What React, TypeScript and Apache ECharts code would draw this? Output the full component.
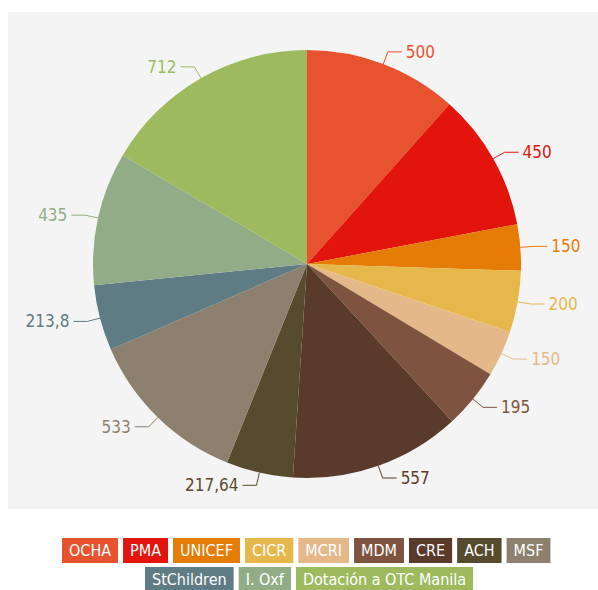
import React, { useEffect, useRef } from "react";
import * as echarts from "echarts";

const categories = [
  "OCHA", "PMA", "UNICEF", "CICR", "MCRI", "MDM", "CRE", "ACH", "MSF",
  "StChildren", "I. Oxf", "Dotación a OTC Manila",
];
const values = [500, 450, 150, 200, 150, 195, 557, 217.64, 533, 213.8, 435, 712];
const valueLabels = ["500", "450", "150", "200", "150", "195", "557", "217,64", "533", "213,8", "435", "712"];
const colors = [
  "#E8532F", "#E2140C", "#E57C05", "#E6B84C", "#E5B88A", "#7E5441",
  "#5A3A2A", "#574B2F", "#8D806E", "#5F7B83", "#91AC86", "#9DBB5E",
];
const legendRow1 = categories.slice(0, 9);
const legendRow2 = categories.slice(9);

const FONT = "'DejaVu Sans Condensed', 'Liberation Sans Narrow', 'Open Sans', sans-serif";

function legendData(names: string[]) {
  return names.map((n) => {
    const i = categories.indexOf(n);
    return {
      name: n,
      icon: "rect",
      textStyle: {
        color: "#ffffff",
        backgroundColor: colors[i],
        padding: [4, 7, 4, 7],
        fontSize: 16,
        lineHeight: 17,
        fontFamily: FONT,
      },
    };
  });
}

export default function App() {
  const ref = useRef<HTMLDivElement>(null);
  useEffect(() => {
    document.body.style.margin = "0";
    const chart = echarts.init(ref.current!, null, { renderer: "svg" });
    chart.setOption({
      animation: false,
      backgroundColor: "#ffffff",
      graphic: [
        {
          type: "rect",
          z: -10,
          silent: true,
          shape: { x: 8, y: 12, width: 590, height: 497 },
          style: { fill: "#f4f4f4" },
        },
      ],
      legend: [
        {
          data: legendData(legendRow1),
          left: 57,
          top: 538,
          itemGap: 0,
          itemWidth: 0,
          itemHeight: 0,
          selectedMode: false,
          padding: 0,
        },
        {
          data: legendData(legendRow2),
          left: 140,
          top: 567,
          itemGap: 0,
          itemWidth: 0,
          itemHeight: 0,
          selectedMode: false,
          padding: 0,
        },
      ],
      series: [
        {
          type: "pie",
          center: [307, 264],
          radius: [0, 214],
          startAngle: 90,
          clockwise: true,
          avoidLabelOverlap: true,
          label: {
            show: true,
            position: "outside",
            fontFamily: FONT,
            fontSize: 17,
            distanceToLabelLine: 4,
            formatter: (p: any) => valueLabels[p.dataIndex],
          },
          labelLine: {
            show: true,
            length: 13,
            length2: 14,
            lineStyle: { width: 1 },
          },
          emphasis: { disabled: true },
          data: categories.map((c, i) => ({
            name: c,
            value: values[i],
            itemStyle: { color: colors[i] },
            label: { color: colors[i] },
            labelLine: { lineStyle: { color: colors[i] } },
          })),
        },
      ],
    });
    return () => chart.dispose();
  }, []);
  return <div ref={ref} style={{ width: 598, height: 590 }} />;
}
